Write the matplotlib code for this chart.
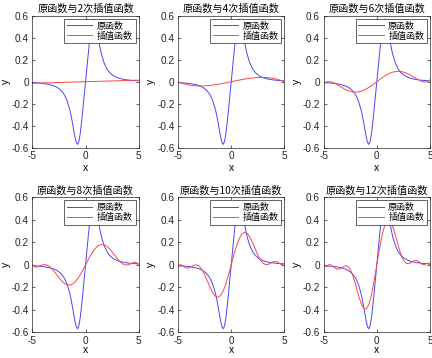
import numpy as np
import matplotlib
matplotlib.use('Agg')
import matplotlib.pyplot as plt

plt.rcParams['font.family'] = ['Liberation Sans', 'Noto Sans CJK SC', 'DejaVu Sans']
plt.rcParams['axes.unicode_minus'] = False

# 原函数 (odd function: right half, left half mirrored)
x_orig_half = [0, 0.125, 0.25, 0.375, 0.5, 0.625, 0.75, 0.875, 1.0, 1.125, 1.25, 1.375,
               1.5, 1.75, 2.0, 2.25, 2.5, 2.75, 3.0, 3.25, 3.5, 3.75, 4.0, 4.25, 4.5, 4.75, 5.0]
y_orig_half = [0, 0.1250, 0.2490, 0.3677, 0.4706, 0.5423, 0.5697, 0.5516, 0.5000, 0.4324,
               0.3632, 0.3006, 0.2474, 0.1686, 0.1176, 0.0845, 0.0624, 0.0473, 0.0366,
               0.0289, 0.0232, 0.0189, 0.0156, 0.0130, 0.0110, 0.0093, 0.0080]

# 插值函数, right half values at x = 0, 0.25, ..., 5
x_half = [0, 0.25, 0.5, 0.75, 1.0, 1.25, 1.5, 1.75, 2.0, 2.25, 2.5, 2.75, 3.0,
          3.25, 3.5, 3.75, 4.0, 4.25, 4.5, 4.75, 5.0]
y_deg2 = [0, 0.0007, 0.0014, 0.0021, 0.0028, 0.0036, 0.0043, 0.0050, 0.0057, 0.0064,
          0.0071, 0.0078, 0.0085, 0.0092, 0.0099, 0.0107, 0.0114, 0.0121, 0.0128,
          0.0135, 0.0142]
y_deg4 = [0, 0.0050, 0.0100, 0.0148, 0.0194, 0.0237, 0.0276, 0.0310, 0.0340, 0.0362,
          0.0379, 0.0388, 0.0389, 0.0380, 0.0361, 0.0331, 0.0292, 0.0240, 0.0173,
          0.0094, 0.0000]
y_deg6 = [0, 0.0182, 0.0358, 0.0520, 0.0663, 0.0781, 0.0870, 0.0925, 0.0945, 0.0928,
          0.0876, 0.0791, 0.0678, 0.0544, 0.0398, 0.0252, 0.0122, 0.0026, -0.0014,
          0.0027, 0.0177]
y_deg8 = [0, 0.0457, 0.0884, 0.1253, 0.1541, 0.1730, 0.1809, 0.1778, 0.1644, 0.1424,
          0.1142, 0.0831, 0.0527, 0.0265, 0.0077, -0.0013, -0.0003, 0.0086, 0.0194,
          0.0212, -0.0029]
y_deg10 = [0, 0.0891, 0.1694, 0.2328, 0.2737, 0.2889, 0.2788, 0.2465, 0.1983, 0.1423,
           0.0876, 0.0422, 0.0124, 0.0004, 0.0042, 0.0168, 0.0284, 0.0288, 0.0145,
           -0.0027, 0.0195]
y_deg12 = [0, 0.1434, 0.2668, 0.3538, 0.3944, 0.3869, 0.3380, 0.2615, 0.1750, 0.0965,
           0.0399, 0.0118, 0.0097, 0.0230, 0.0368, 0.0383, 0.0240, 0.0040, -0.0013,
           0.0160, -0.0028]

degrees = [2, 4, 6, 8, 10, 12]
interp_half = [y_deg2, y_deg4, y_deg6, y_deg8, y_deg10, y_deg12]


def full(xh, yh):
    xh = np.array(xh)
    yh = np.array(yh)
    return np.concatenate([-xh[:0:-1], xh]), np.concatenate([-yh[:0:-1], yh])


x0, y0 = full(x_orig_half, y_orig_half)
cjk = ['Noto Sans CJK SC', 'DejaVu Sans']

fig = plt.figure(figsize=(4.32, 3.58), dpi=100)
lefts = [0.0748, 0.412, 0.749]
rows = [(0.5874, 0.3687), (0.072, 0.3768)]
xlabel_pads = [1.5, -0.5]

for i, (n, yh) in enumerate(zip(degrees, interp_half)):
    r, c = divmod(i, 3)
    ax = fig.add_axes([lefts[c], rows[r][0], 0.2465, rows[r][1]])
    xi, yi = full(x_half, yh)
    ax.plot(x0, y0, color='#4646ff', lw=0.7, label='原函数')
    ax.plot(xi, yi, color='#ff4646', lw=0.7, label='插值函数')
    ax.set_xlim(-5, 5)
    ax.set_ylim(-0.6, 0.6)
    ax.set_xticks([-5, 0, 5])
    ax.set_yticks([-0.6, -0.4, -0.2, 0, 0.2, 0.4, 0.6])
    ax.set_yticklabels(['-0.6', '-0.4', '-0.2', '0', '0.2', '0.4', '0.6'])
    ax.tick_params(direction='in', length=2, width=0.5, labelsize=7.2, top=True, right=True,
                   pad=2.5, colors='#262626')
    for sp in ax.spines.values():
        sp.set_linewidth(0.5)
        sp.set_color('#262626')
    ax.set_title(f'原函数与{n}次插值函数', fontsize=7.3, pad=2.5, family=cjk)
    ax.set_xlabel('x', fontsize=7.5, labelpad=xlabel_pads[r])
    ax.set_ylabel('y', fontsize=7.5, labelpad=0.5)
    leg = ax.legend(loc='upper right', handlelength=2.8, handletextpad=0.5,
                    borderpad=0.3, labelspacing=0.1, fancybox=False, framealpha=1,
                    edgecolor='#262626', borderaxespad=0.35,
                    prop={'family': cjk, 'size': 6.5})
    leg.get_frame().set_linewidth(0.5)

fig.savefig('out.png', dpi=100)
